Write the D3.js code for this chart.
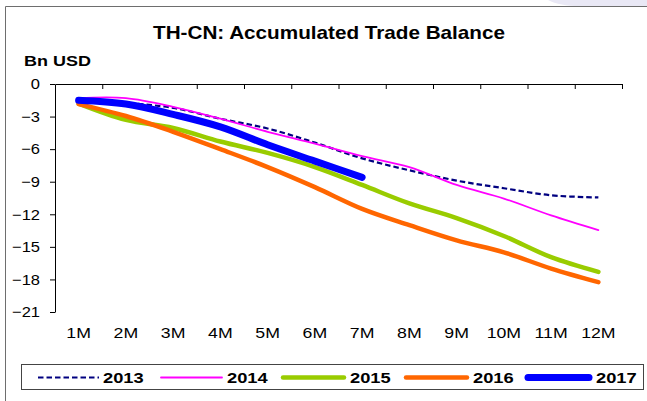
<!DOCTYPE html>
<html>
<head>
<meta charset="utf-8">
<script src="https://cdn.jsdelivr.net/npm/d3@7"></script>
<style>
  html, body { margin: 0; padding: 0; background: #fff; }
  svg { display: block; font-family: "Liberation Sans", Arial, sans-serif; }
</style>
</head>
<body>
<svg id="chart" width="647" height="401"></svg>
<script>
// Months on the category axis
const months = ["1M", "2M", "3M", "4M", "5M", "6M", "7M", "8M", "9M", "10M", "11M", "12M"];

// Accumulated trade balance, Thailand vs China (Bn USD)
const y2013 = [-1.5, -1.75, -2.2, -3.2, -4.1, -5.4, -6.85, -7.95, -8.9, -9.6, -10.25, -10.45];
const y2014 = [-1.3, -1.3, -2.1, -3.2, -4.4, -5.5, -6.65, -7.65, -9.3, -10.55, -12.1, -13.45];
const y2015 = [-1.8, -3.3, -4.05, -5.3, -6.35, -7.65, -9.3, -11.0, -12.35, -14.0, -15.95, -17.3];
const y2016 = [-1.85, -2.95, -4.4, -6.0, -7.65, -9.5, -11.5, -13.0, -14.4, -15.5, -17.0, -18.25];
const y2017 = [-1.5, -1.85, -2.8, -3.95, -5.6, -7.1, -8.6];

// Y axis tick values
const yTicks = [0, -3, -6, -9, -12, -15, -18, -21];

const seriesNames = ["2013", "2014", "2015", "2016", "2017"];
const seriesValues = [y2013, y2014, y2015, y2016, y2017];

// Line appearance per series
const seriesStyle = {
  "2013": { color: "#000080", width: 2.2, dash: "5.5,3", cap: "butt" },
  "2014": { color: "#FF00FF", width: 1.8, dash: null, cap: "round" },
  "2015": { color: "#99CC00", width: 4.5, dash: null, cap: "round" },
  "2016": { color: "#FF6600", width: 4.5, dash: null, cap: "round" },
  "2017": { color: "#0000FF", width: 7, dash: null, cap: "round" }
};

const svg = d3.select("#chart");
const FONT_STRETCH = 1.18;

// helper: text widened horizontally like the source layout
function label(parent, x, y, txt, size, weight, anchor, sx) {
  return parent.append("text")
    .attr("transform", `translate(${x},${y}) scale(${sx},1)`)
    .attr("text-anchor", anchor)
    .attr("font-size", size)
    .attr("font-weight", weight)
    .attr("fill", "#000")
    .text(txt);
}

// faint decoration in the top-right corner
svg.append("path")
  .attr("d", "M548,0 C556,4 566,6 580,6 L647,6 L647,0 Z")
  .attr("fill", "#E9E8F5");

// outer frame
svg.append("path")
  .attr("d", "M5.5,401 L5.5,6.5 L647,6.5")
  .attr("fill", "none")
  .attr("stroke", "#6E6E6E")
  .attr("stroke-width", 1);

// titles
label(svg, 329, 39, "TH-CN: Accumulated Trade Balance", 18, "bold", "middle", 1.15);
label(svg, 24, 65.5, "Bn USD", 15, "bold", "start", 1.2);

// scales
const x = d3.scaleBand().domain(months).range([55, 622]).paddingInner(0).paddingOuter(0);
const xEdge = d3.scaleLinear().domain([0, months.length]).range([55, 622]);
const y = d3.scaleLinear().domain([-21, 0]).range([312, 84]);
const cx = m => x(m) + x.bandwidth() / 2;

// horizontal axis sits at zero, tick marks between categories
const xAxis = d3.axisBottom(xEdge)
  .tickValues(d3.range(1, months.length + 1))
  .tickSize(5)
  .tickSizeOuter(0)
  .tickFormat("");
const gx = svg.append("g").attr("transform", `translate(0,${y(0)})`).call(xAxis);
gx.selectAll("path, line").attr("stroke", "#000").attr("stroke-width", 1);

// vertical axis
const yAxis = d3.axisLeft(y).tickValues(yTicks).tickSize(5).tickSizeOuter(0).tickFormat(d3.format("d"));
const gy = svg.append("g").attr("transform", `translate(55,0)`).call(yAxis);
gy.selectAll("path, line").attr("stroke", "#000").attr("stroke-width", 1);
gy.selectAll("text")
  .attr("font-size", 15)
  .attr("font-family", "'Liberation Sans', Arial, sans-serif")
  .attr("fill", "#000")
  .attr("x", -15 / 1.1)
  .attr("transform", "scale(1.1,1)");

// month labels along the bottom
const gl = svg.append("g");
months.forEach(m => label(gl, cx(m), 337.5, m, 15, "normal", "middle", FONT_STRETCH));

// series lines
const line = d3.line()
  .x((d, i) => cx(months[i]))
  .y(d => y(d))
  .curve(d3.curveCatmullRom.alpha(0.5));

const gLines = svg.append("g");
seriesNames.forEach((name, k) => {
  const st = seriesStyle[name];
  gLines.append("path")
    .datum(seriesValues[k])
    .attr("d", line)
    .attr("fill", "none")
    .attr("stroke", st.color)
    .attr("stroke-width", st.width)
    .attr("stroke-dasharray", st.dash)
    .attr("stroke-linecap", st.cap)
    .attr("stroke-linejoin", "round");
});

// legend
const leg = svg.append("g");
leg.append("rect")
  .attr("x", 21.5).attr("y", 364.5).attr("width", 622).attr("height", 25)
  .attr("fill", "#fff").attr("stroke", "#444").attr("stroke-width", 1);
const legLineX = [38, 161, 283, 406, 528];
const legTextX = [103, 227, 350, 473, 596];
seriesNames.forEach((name, k) => {
  const st = seriesStyle[name];
  leg.append("line")
    .attr("x1", legLineX[k]).attr("x2", legLineX[k] + 61)
    .attr("y1", 377.5).attr("y2", 377.5)
    .attr("stroke", st.color)
    .attr("stroke-width", st.width)
    .attr("stroke-dasharray", st.dash)
    .attr("stroke-linecap", st.cap);
  label(leg, legTextX[k], 383, name, 15, "bold", "start", 1.22);
});
</script>
</body>
</html>
